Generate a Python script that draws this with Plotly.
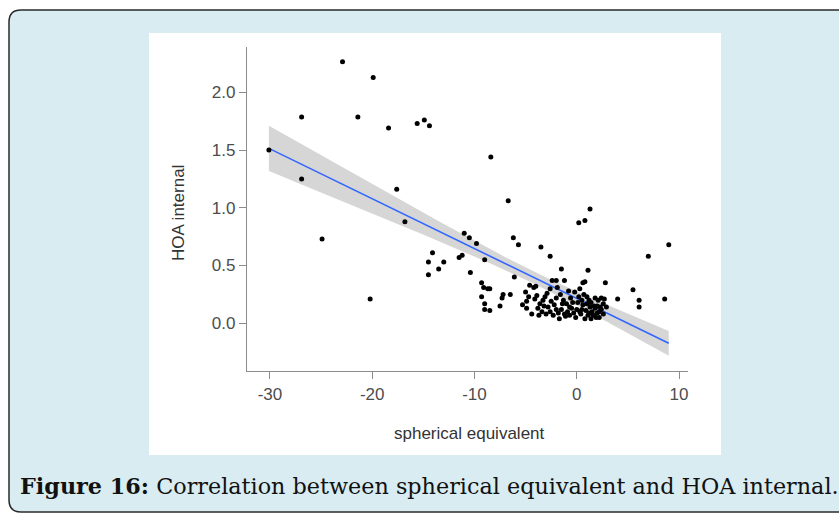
import numpy as np
import plotly.graph_objects as go

# ---- data ----
se = [-22.9, -19.9, -26.9, -21.4, -18.4, -15.6, -14.9, -14.4, -30.1, -26.9,
      -17.6, -16.8, -24.9, -20.2,
      -11.0, -10.5, -9.8, -14.1, -14.5, -13.0, -13.5, -14.5, -11.5, -11.2,
      -10.4, -9.0, -8.4, -6.7, 1.3, 0.8, 0.2, 9.0, 7.0, -6.2, -5.7, -3.5,
      -2.6, -1.5, 1.1, -6.1, 2.8, 5.5, 4.0, 6.1, 6.1, 8.6,
      -9.3, -9.1, -8.7, -8.5, -9.3, -9.0, -9.0, -8.5, -7.5, -7.3, -7.2, -6.5,
      -5.0, -4.7, -4.9, -4.9, -4.6, -4.2, -4.0, -3.6, -3.8, -3.7, -3.3, -3.1,
      -2.9, -2.4, -2.0, -1.2, -2.8, -2.6, -2.3, -2.0, -2.0, -1.6, -1.3, -1.0,
      -0.7, -0.3, -0.7, 0.3, 0.6, 0.8, 0.2, 0.5, 1.0, 1.3, 1.5, 1.1, 1.6,
      1.8, 2.1, 2.4, 2.6, 2.3, 2.9, 2.4, 2.0,
      -3.4, -3.0, -1.8, -1.5, -1.1, -0.4, 0.0, 0.4, 0.9, 1.2, 0.7, -0.2,
      -4.4, -5.3, -2.6, -1.9, 1.8, 2.2, 1.4, -0.8, -4.1,
      -3.9, -3.2, -2.5, -2.2, -1.7, -1.4, -0.9, -0.5, -0.1, 0.1, 0.5, 0.8,
      1.0, 1.4, 1.7, 2.0, 2.2, 2.6, 0.3, -0.6, 1.9, -1.2, 0.6, 2.7, 1.2]
hoa = [2.265, 2.127, 1.786, 1.786, 1.69, 1.73, 1.76, 1.71, 1.50, 1.25,
       1.16, 0.88, 0.73, 0.21,
       0.78, 0.74, 0.69, 0.61, 0.53, 0.53, 0.47, 0.42, 0.57, 0.59,
       0.44, 0.55, 1.44, 1.06, 0.99, 0.89, 0.87, 0.68, 0.58, 0.74, 0.68, 0.66,
       0.58, 0.47, 0.46, 0.40, 0.35, 0.29, 0.21, 0.20, 0.14, 0.21,
       0.35, 0.31, 0.30, 0.30, 0.23, 0.17, 0.12, 0.11, 0.15, 0.22, 0.25, 0.25,
       0.27, 0.23, 0.19, 0.13, 0.33, 0.31, 0.32, 0.17, 0.13, 0.07, 0.20, 0.23,
       0.26, 0.37, 0.37, 0.37, 0.14, 0.10, 0.07, 0.12, 0.22, 0.25, 0.20, 0.17,
       0.14, 0.09, 0.07, 0.30, 0.35, 0.36, 0.23, 0.20, 0.17, 0.14, 0.10, 0.07, 0.07,
       0.22, 0.20, 0.22, 0.17, 0.14, 0.14, 0.12, 0.09,
       0.10, 0.08, 0.09, 0.12, 0.06, 0.18, 0.12, 0.08, 0.11, 0.20, 0.25, 0.27,
       0.08, 0.16, 0.30, 0.31, 0.13, 0.05, 0.04, 0.28, 0.21,
       0.24, 0.15, 0.19, 0.16, 0.04, 0.17, 0.10, 0.13, 0.05, 0.18, 0.12, 0.04,
       0.23, 0.18, 0.15, 0.15, 0.10, 0.08, 0.10, 0.22, 0.05, 0.08, 0.16, 0.21, 0.09]

x_ticks = [-30, -20, -10, 0, 10]
x_tick_text = ["-30", "-20", "-10", "0", "10"]
y_ticks = [0.0, 0.5, 1.0, 1.5, 2.0]
y_tick_text = ["0.0", "0.5", "1.0", "1.5", "2.0"]
x_title = "spherical equivalent"
y_title = "HOA internal"
caption_bold = "Figure 16:"
caption_text = " Correlation between spherical equivalent and HOA internal."

# ---- linear fit with 95% confidence band (computed from data) ----
xa = np.array(se, dtype=float)
ya = np.array(hoa, dtype=float)
n = len(xa)
slope, intercept = np.polyfit(xa, ya, 1)
resid = ya - (intercept + slope * xa)
s = np.sqrt(np.sum(resid ** 2) / (n - 2))
xbar = xa.mean()
sxx = np.sum((xa - xbar) ** 2)
t = 1.976
xf = np.linspace(xa.min(), xa.max(), 80)
yf = intercept + slope * xf
half = t * s * np.sqrt(1.0 / n + (xf - xbar) ** 2 / sxx)
lo = yf - half
hi = yf + half

# ---- layout geometry (pixels) ----
W, H = 839, 514
L, R, T, B = 247, 151, 47, 143
PW, PH = W - L - R, H - T - B


def px(x):
    return (x - L) / PW


def py(y):
    return (H - B - y) / PH


fig = go.Figure()
fig.add_trace(go.Scatter(x=np.concatenate([xf, xf[::-1]]),
                         y=np.concatenate([hi, lo[::-1]]),
                         fill="toself", fillcolor="rgba(153,153,153,0.4)",
                         line=dict(width=0), mode="lines", hoverinfo="skip",
                         showlegend=False))
fig.add_trace(go.Scatter(x=xf, y=yf, mode="lines",
                         line=dict(color="#3366FF", width=1.6),
                         showlegend=False))
fig.add_trace(go.Scatter(x=se, y=hoa, mode="markers",
                         marker=dict(color="black", size=5),
                         showlegend=False))

# card with rounded corners
x0, y0, x1, y1, r = 9, 10, 870, 512, 12
pts = [("M", [(x0 + r, y0)]), ("L", [(x1 - r, y0)]), ("Q", [(x1, y0), (x1, y0 + r)]),
       ("L", [(x1, y1 - r)]), ("Q", [(x1, y1), (x1 - r, y1)]),
       ("L", [(x0 + r, y1)]), ("Q", [(x0, y1), (x0, y1 - r)]),
       ("L", [(x0, y0 + r)]), ("Q", [(x0, y0), (x0 + r, y0)])]
path = ""
for cmd, ps in pts:
    path += cmd + " " + " ".join(f"{px(a):.5f},{py(b):.5f}" for a, b in ps) + " "
path += "Z"

shapes = [
    dict(type="path", path=path, xref="paper", yref="paper",
         fillcolor="#d8ecf2", line=dict(color="#2a2a2a", width=1.5), layer="below"),
    dict(type="rect", xref="paper", yref="paper", x0=px(149), x1=px(721),
         y0=py(455), y1=py(33), fillcolor="white", line=dict(width=0), layer="below"),
]

annotations = [
    dict(text=x_title, xref="paper", yref="paper", x=px(469), y=py(433),
         showarrow=False, xanchor="center", yanchor="middle",
         font=dict(family="Liberation Sans, Arial", size=17, color="#333333")),
    dict(text=y_title, xref="paper", yref="paper", x=px(178), y=py(213),
         showarrow=False, xanchor="center", yanchor="middle", textangle=-90,
         font=dict(family="Liberation Sans, Arial", size=17, color="#333333")),
    dict(text=f"<b>{caption_bold}</b>{caption_text}", xref="paper", yref="paper",
         x=px(18), y=py(486), showarrow=False, xanchor="left", yanchor="middle",
         font=dict(family="DejaVu Serif", size=22.3, color="#111111")),
]

axis_common = dict(showline=True, linecolor="#8c8c8c", linewidth=1.2,
                   ticks="outside", ticklen=7, tickcolor="#8c8c8c", tickwidth=1.2,
                   showgrid=False, zeroline=False, mirror=False,
                   tickfont=dict(family="Liberation Sans, Arial", size=17, color="#4d4d4d"))

fig.update_layout(
    width=W, height=H, margin=dict(l=L, r=R, t=T, b=B),
    paper_bgcolor="white", plot_bgcolor="white",
    shapes=shapes, annotations=annotations, showlegend=False,
    xaxis=dict(range=[-32.24, 10.88], tickvals=x_ticks, ticktext=x_tick_text,
               **axis_common),
    yaxis=dict(range=[-0.413, 2.392], tickvals=y_ticks, ticktext=y_tick_text,
               **axis_common),
)

fig.write_html("out.html")
